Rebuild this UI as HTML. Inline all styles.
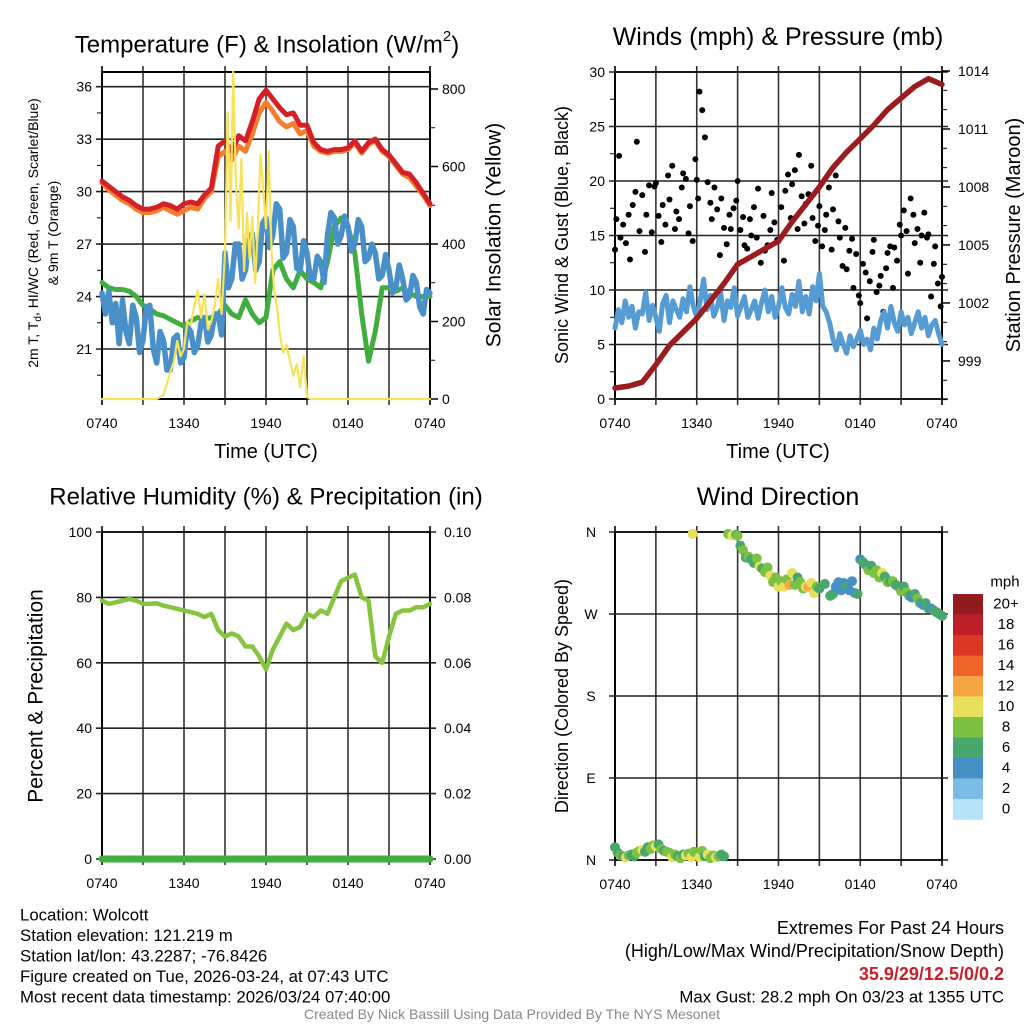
<!DOCTYPE html>
<html><head><meta charset="utf-8"><style>
html,body{margin:0;padding:0;background:#fff;}
svg{display:block;font-family:"Liberation Sans",sans-serif;}
</style></head><body>
<svg id="fig" width="1024" height="1024" viewBox="0 0 1024 1024"></svg>
<script>
// ---------- DATA ----------
const xTickLabels = ["0740","1340","1940","0140","0740"];
// Panel 1 (hours since 0740 UTC)
const tempT = [0,0.5,1,1.5,2,2.5,3,3.5,4,4.5,5,5.5,6,6.5,7,7.5,8,8.5,9,9.5,10,10.5,11,11.5,12,12.5,13,13.5,14,14.5,15,15.5,16,16.5,17,17.5,18,18.5,19,19.5,20,20.5,21,21.5,22,22.5,23,23.5,24];
const tempRed = [30.6,30.3,30.0,29.7,29.5,29.2,29.0,29.0,29.1,29.3,29.2,29.0,29.3,29.4,29.3,29.8,30.2,32.6,32.9,32.3,33.2,32.9,34.0,35.3,35.8,35.3,34.8,34.4,34.5,33.8,33.8,32.8,32.4,32.3,32.4,32.4,32.5,32.9,32.3,32.8,33.0,32.4,32.1,31.6,31.1,31.0,30.5,29.9,29.3];
const tempOrange = [30.5,30.1,29.8,29.5,29.3,29.0,28.8,28.8,28.9,29.1,28.9,28.7,28.9,29.1,29.0,29.6,30.0,32.0,32.3,31.8,32.6,32.3,33.3,34.5,35.1,34.6,34.0,33.7,33.9,33.3,33.5,32.6,32.3,32.2,32.3,32.3,32.4,32.8,32.2,32.7,32.9,32.3,32.0,31.5,31.0,30.8,30.3,29.8,29.2];
const dewGreen = [24.8,24.5,24.4,24.4,24.3,24.0,23.5,23.3,23.0,22.9,22.7,22.5,22.3,22.6,22.8,22.7,22.8,23.0,23.5,23.0,22.8,23.8,23.0,22.5,22.8,25.5,26.0,25.0,24.5,25.5,25.0,24.8,24.5,26.0,28.0,28.5,28.0,26.5,23.0,20.3,22.0,24.5,24.5,24.3,24.5,24.2,24.0,24.0,24.0];
const wcBlueT = [0,0.25,0.5,0.75,1,1.25,1.5,1.75,2,2.25,2.5,2.75,3,3.25,3.5,3.75,4,4.25,4.5,4.75,5,5.25,5.5,5.75,6,6.25,6.5,6.75,7,7.25,7.5,7.75,8,8.25,8.5,8.75,9,9.25,9.5,9.75,10,10.25,10.5,10.75,11,11.25,11.5,11.75,12,12.25,12.5,12.75,13,13.25,13.5,13.75,14,14.25,14.5,14.75,15,15.25,15.5,15.75,16,16.25,16.5,16.75,17,17.25,17.5,17.75,18,18.25,18.5,18.75,19,19.25,19.5,19.75,20,20.25,20.5,20.75,21,21.25,21.5,21.75,22,22.25,22.5,22.75,23,23.25,23.5,23.75,24];
const wcBlue = [24.2,23.0,24.3,22.5,23.6,21.3,23.8,22.0,21.3,23.5,22.8,20.8,21.5,23.4,23.5,21.0,20.2,22.0,21.5,19.8,19.8,21.6,21.8,20.2,20.5,22.3,22.0,20.8,21.2,22.5,22.8,21.4,21.8,23.0,23.0,21.8,26.5,24.5,25.0,27.0,27.0,25.0,25.5,27.2,27.6,25.5,26.0,28.2,28.5,26.8,27.5,29.3,29.0,26.2,26.5,28.4,28.0,25.6,25.5,27.2,26.5,25.0,25.0,26.3,26.0,24.8,27.5,28.8,28.5,27.0,27.5,28.6,28.0,26.6,27.0,28.4,28.0,26.0,26.2,27.0,26.5,25.0,25.2,26.4,25.5,24.2,24.5,25.8,25.0,23.8,24.0,25.2,24.8,23.4,23.0,24.4,24.2];
const solarT = [0,4,4.5,5,5.25,5.5,5.75,6,6.25,6.5,6.75,7,7.25,7.5,7.75,8,8.25,8.5,8.75,9,9.2,9.4,9.6,9.8,10,10.2,10.4,10.6,10.8,11,11.2,11.4,11.6,11.8,12,12.2,12.4,12.6,12.8,13,13.25,13.5,13.75,14,14.25,14.5,14.75,15,15.25,15.5,16,24];
const solarW = [0,0,10,70,95,150,110,130,200,190,240,280,210,270,180,200,240,310,220,380,740,460,845,560,440,620,330,480,360,470,300,440,630,540,440,640,380,280,240,170,120,140,100,60,90,30,110,5,0,0,0,0];
// Panel 2
const windT = wcBlueT;
const windSonic = [6.5,8.2,7.0,9.0,7.5,8.5,6.5,8.0,7.8,9.8,7.2,8.6,7.5,6.2,8.8,9.5,7.0,9.0,8.2,7.5,9.2,8.0,10.3,8.5,7.5,9.0,11.0,8.2,9.5,7.6,8.4,9.8,7.2,9.0,8.4,10.2,7.6,8.5,9.4,7.5,8.2,9.0,7.4,8.8,10.0,8.0,9.4,7.5,8.5,10.2,8.4,7.8,9.6,8.5,10.8,8.0,9.4,7.8,10.3,9.0,11.5,8.5,8.0,7.0,5.5,4.5,6.0,5.0,4.2,5.8,4.8,5.5,6.3,5.0,5.5,4.5,6.5,5.5,7.2,8.0,6.5,8.5,7.0,6.2,8.0,6.8,7.5,6.0,7.0,8.0,6.5,7.5,5.8,6.8,7.2,6.0,5.0];
const gustT = [0.0,0.1,0.3,0.4,0.6,0.8,1.0,1.1,1.3,1.5,1.6,1.8,2.0,2.2,2.3,2.5,2.7,2.9,3.0,3.2,3.4,3.5,3.7,3.9,4.0,4.2,4.4,4.5,4.7,4.9,5.0,5.2,5.4,5.5,5.7,5.9,6.0,6.1,6.2,6.4,6.6,6.8,7.0,7.1,7.3,7.5,7.7,7.8,8.0,8.2,8.4,8.5,8.7,8.9,9.0,9.2,9.4,9.5,9.7,9.9,10.0,10.2,10.4,10.5,10.7,10.9,11.0,11.2,11.4,11.5,11.7,11.9,12.0,12.2,12.4,12.5,12.7,12.9,13.0,13.2,13.4,13.5,13.7,13.9,14.0,14.2,14.4,14.5,14.7,14.9,15.0,15.2,15.4,15.5,15.7,15.9,16.0,16.2,16.4,16.5,16.7,16.9,17.0,17.2,17.4,17.5,17.7,17.9,18.0,18.2,18.4,18.5,18.7,18.9,19.0,19.2,19.4,19.5,19.7,19.9,20.0,20.2,20.4,20.5,20.7,20.9,21.0,21.2,21.4,21.5,21.7,21.9,22.0,22.2,22.4,22.5,22.7,22.9,23.0,23.2,23.4,23.5,23.7,23.9,24.0];
const gustW = [13.7,16.5,22.3,14.8,16.0,14.3,16.9,12.8,17.8,19.0,23.6,15.4,18.7,13.5,16.9,19.6,15.3,19.5,19.8,16.8,14.4,17.8,16.0,20.5,18.3,21.4,15.6,17.2,16.5,19.4,20.7,20.2,15.2,17.7,14.5,22.0,20.1,18.4,28.2,26.5,24.0,19.9,18.0,16.5,19.4,17.4,13.2,18.4,15.7,14.2,16.9,15.6,17.5,18.2,20.0,15.5,16.7,14.1,13.8,16.5,15.0,17.6,14.8,19.3,12.5,16.8,13.6,14.1,15.5,18.9,16.2,14.6,14.5,17.6,12.7,19.1,20.6,16.6,19.7,21.0,15.6,22.4,18.6,16.1,17.9,18.8,21.4,16.6,14.5,15.9,17.7,14.0,15.5,16.9,19.4,13.7,17.4,20.5,16.3,14.8,12.2,15.7,11.9,13.6,14.7,10.2,13.3,9.5,8.8,12.4,11.6,7.4,10.8,13.5,14.6,9.8,10.4,11.3,8.0,12.0,13.4,14.0,10.2,13.9,12.7,16.0,15.0,17.3,15.4,11.5,18.4,16.9,14.3,15.6,12.5,15.0,17.1,14.8,15.1,9.4,12.4,14.0,10.6,8.5,11.2,10.2,9.5];
const presT = [0,1,2,3,4,5,6,7,8,9,10,11,12,13,14,15,16,17,18,19,20,21,22,23,24];
const presMb = [997.6,997.7,997.9,998.8,999.8,1000.5,1001.2,1002.1,1003.0,1004.0,1004.4,1004.8,1005.2,1006.2,1007.1,1008.0,1009.0,1009.8,1010.5,1011.2,1012.0,1012.6,1013.2,1013.6,1013.3];
// Panel 3
const rhT = [0,0.5,1,1.5,2,2.5,3,3.5,4,4.5,5,5.5,6,6.5,7,7.5,8,8.5,9,9.5,10,10.5,11,11.5,12,12.5,13,13.5,14,14.5,15,15.5,16,16.5,17,17.5,18,18.5,19,19.5,20,20.5,21,21.5,22,22.5,23,23.5,24];
const rhPct = [79,78,78.5,79,79.5,79,78,78,78.2,77.5,77,76.5,76,75.5,75,74,75,70,68,69,68,65,65,62,58,64,68,72,70,71,75,74,76,75,80,85,86,87,80,79,62,60,68,75,76,76,77,77,78];
const precipIn = [0,0,0,0,0,0,0,0,0,0,0,0,0,0,0,0,0,0,0,0,0,0,0,0,0];
// Panel 4
const dirT = [0,0.2,0.4,0.6,0.8,1.0,1.2,1.4,1.6,1.8,2.0,2.2,2.4,2.6,2.8,3.0,3.2,3.4,3.6,3.8,4.0,4.2,4.4,4.6,4.8,5.0,5.2,5.4,5.6,5.8,6.0,6.2,6.4,6.6,6.8,7.0,7.2,7.4,7.6,7.8,8.0,5.7,8.3,8.6,8.9,9.0,9.2,9.4,9.6,9.8,10.0,10.2,10.4,10.6,10.8,11.0,11.2,11.4,11.6,11.8,12.0,12.2,12.4,12.6,12.8,13.0,13.2,13.4,13.6,13.8,14.0,14.2,14.4,14.6,14.8,15.0,15.4,15.8,16.0,16.2,16.4,16.6,16.8,17.0,17.2,17.4,17.6,17.8,18.0,18.2,18.4,18.6,18.8,19.0,19.2,19.4,19.6,19.8,20.0,20.2,20.4,20.6,20.8,21.0,21.2,21.4,21.6,21.8,22.0,22.2,22.4,22.6,22.8,23.0,23.2,23.4,23.6,23.8,24.0];
const dirDeg = [14,8,5,4,3,5,6,4,8,10,11,9,14,12,16,15,17,12,10,9,8,3,6,4,2,6,5,7,3,9,8,3,10,4,6,2,5,3,4,6,4,358,358,356,357,356,345,340,332,333,330,326,331,322,320,316,321,312,305,310,300,306,300,308,302,315,302,310,305,298,300,300,304,293,300,298,303,290,292,300,305,296,304,300,296,306,293,292,330,327,324,318,323,315,318,310,315,311,305,306,306,302,300,295,300,294,290,288,292,287,282,280,282,276,276,274,272,270,268];
const dirSpd = [6,7,8,6,10,8,7,6,9,8,10,7,6,8,9,10,7,8,6,9,8,10,9,7,8,6,10,8,11,9,8,10,9,7,11,8,9,10,8,7,6,10,8,10,7,9,6,8,7,8,7,6,8,10,7,8,9,10,8,9,10,8,11,9,12,10,9,7,9,8,10,12,11,10,9,6,7,7,6,5,4,5,4,6,4,5,4,7,5,6,7,8,7,8,9,8,10,7,8,6,8,7,6,8,7,8,6,4,7,8,6,5,7,6,4,6,7,6,7,6,6];
const cbLabels = ["20+","18","16","14","12","10","8","6","4","2","0"];
const cbColors = ["#931a1d","#be1e28","#dc3626","#ef6428","#f6a744","#e6e05a","#7cc144","#48a76c","#4690c6","#7cbbe3","#b7e3f8"];

// ---------- DRAWING ----------
const NS = "http://www.w3.org/2000/svg";
const svg = document.getElementById("fig");
function mk(tag, attrs, name, parent) {
  const el = document.createElementNS(NS, tag);
  for (const k in attrs) el.setAttribute(k, attrs[k]);
  
  
  (parent || svg).appendChild(el);
  return el;
}
function txt(x, y, s, size, name, opts) {
  opts = opts || {};
  const t = mk("text", {x: x, y: y, "font-size": size, "text-anchor": opts.anchor || "middle", fill: opts.fill || "#000", "dominant-baseline": "central"}, name);
  if (opts.weight) t.setAttribute("font-weight", opts.weight);
  if (opts.rot) t.setAttribute("transform", "rotate(-90 " + x + " " + y + ")");
  t.textContent = s;
  return t;
}
function frame(P, name) {
  const g = mk("g", {}, name);
  for (let i = 0; i <= 8; i++) {
    const x = P.x0 + (P.x1 - P.x0) * i / 8;
    mk("line", {x1: x, x2: x, y1: P.y0 - 6, y2: P.y1 + 6, stroke: i % 8 === 0 ? "#000" : "#333", "stroke-width": 1.6}, "v-gridline", g);
  }
  mk("rect", {x: P.x0, y: P.y0, width: P.x1 - P.x0, height: P.y1 - P.y0, fill: "none", stroke: "#000", "stroke-width": 2}, "plot-frame", g);
  xTickLabels.forEach((l, i) => {
    const x = P.x0 + (P.x1 - P.x0) * i / 4;
    txt(x, P.y1 + 24, l, 14, "x-tick-label");
  });
  return g;
}
function hline(P, y, g, ext) {
  mk("line", {x1: P.x0 - 6, x2: P.x1 + (ext ? 6 : 0), y1: y, y2: y, stroke: "#222", "stroke-width": 1.6}, "h-gridline", g);
}
function poly(pts, stroke, w, name, g) {
  return mk("polyline", {points: pts.map(p => p[0].toFixed(1) + "," + p[1].toFixed(1)).join(" "), fill: "none", stroke: stroke, "stroke-width": w, "stroke-linejoin": "round", "stroke-linecap": "round"}, name, g);
}

// Panel 1
const P1 = {x0: 102, x1: 430, y0: 72, y1: 399};
const x1f = t => P1.x0 + t / 24 * (P1.x1 - P1.x0);
const y1f = v => P1.y1 - (v - 18.14) / (36.84 - 18.14) * (P1.y1 - P1.y0);
const y1r = w => P1.y1 - w * 0.3875;
const g1 = frame(P1, "temperature-panel");
[21, 24, 27, 30, 33, 36].forEach(v => { hline(P1, y1f(v), g1, false); txt(P1.x0 - 10, y1f(v), String(v), 14, "y-tick-label", {anchor: "end"}); });
for (let v = 19.5; v < 36.5; v += 3) mk("line", {x1: P1.x0 - 5, x2: P1.x0, y1: y1f(v), y2: y1f(v), stroke: "#000"}, "y-minor-tick", g1);
[0, 200, 400, 600, 800].forEach(w => { mk("line", {x1: P1.x1, x2: P1.x1 + 8, y1: y1r(w), y2: y1r(w), stroke: "#000", "stroke-width": 1.5}, "y2-tick", g1); txt(P1.x1 + 12, y1r(w), String(w), 14, "y2-tick-label", {anchor: "start"}); });
for (let w = 100; w < 850; w += 100) if (w % 200) mk("line", {x1: P1.x1, x2: P1.x1 + 5, y1: y1r(w), y2: y1r(w), stroke: "#000"}, "y2-minor-tick", g1);
poly(tempT.map((t, i) => [x1f(t), y1f(tempOrange[i])]), "#f47e2e", 5, "series-9m-temp", g1);
poly(tempT.map((t, i) => [x1f(t), y1f(tempRed[i])]), "#d42027", 5, "series-2m-temp", g1);
poly(tempT.map((t, i) => [x1f(t), y1f(dewGreen[i])]), "#3fae3f", 5, "series-dewpoint", g1);
poly(wcBlueT.map((t, i) => [x1f(t), y1f(wcBlue[i])]), "#4a90c8", 5.5, "series-windchill", g1);
poly(solarT.map((t, i) => [x1f(t), y1r(solarW[i])]), "#f7e35a", 2.2, "series-solar", g1);
mk("text", {x: 267, y: 45, "font-size": 24, "text-anchor": "middle", "dominant-baseline": "central"}, "panel1-title").innerHTML = 'Temperature (F) &amp; Insolation (W/m<tspan dy="-9" font-size="15">2</tspan><tspan dy="9">)</tspan>';
txt(266, 452, "Time (UTC)", 20, "panel1-x-title");
const yl = mk("text", {x: 0, y: 0, "font-size": 14, "text-anchor": "middle", transform: "translate(38 233) rotate(-90)"}, "panel1-y-title");
yl.innerHTML = '2m T, T<tspan dy="3" font-size="10">d</tspan><tspan dy="-3">, HI/WC (Red, Green, Scarlet/Blue)</tspan>';
txt(53, 233, "& 9m T (Orange)", 14, "panel1-y-title-2", {rot: true});
txt(494, 235, "Solar Insolation (Yellow)", 21, "panel1-y2-title", {rot: true});

// Panel 2
const P2 = {x0: 615, x1: 942, y0: 72, y1: 399};
const x2f = t => P2.x0 + t / 24 * (P2.x1 - P2.x0);
const y2f = v => P2.y1 - v / 30 * (P2.y1 - P2.y0);
const y2r = p => 71 + (1014 - p) * 19.33;
const g2 = frame(P2, "winds-panel");
[0, 5, 10, 15, 20, 25, 30].forEach(v => { hline(P2, y2f(v), g2, true); txt(P2.x0 - 10, y2f(v), String(v), 14, "y-tick-label", {anchor: "end"}); });
for (let v = 2.5; v < 30; v += 5) mk("line", {x1: P2.x0 - 5, x2: P2.x0, y1: y2f(v), y2: y2f(v), stroke: "#000"}, "y-minor-tick", g2);
[999, 1002, 1005, 1008, 1011, 1014].forEach(p => { mk("line", {x1: P2.x1, x2: P2.x1 + 8, y1: y2r(p), y2: y2r(p), stroke: "#000", "stroke-width": 1.5}, "y2-tick", g2); txt(P2.x1 + 16, y2r(p), String(p), 14, "y2-tick-label", {anchor: "start"}); });
for (let p = 997; p < 1014; p++) if ((p - 999) % 3) mk("line", {x1: P2.x1, x2: P2.x1 + 5, y1: y2r(p), y2: y2r(p), stroke: "#000"}, "y2-minor-tick", g2);
gustT.forEach((t, i) => mk("circle", {cx: x2f(t), cy: y2f(gustW[i]), r: 3, fill: "#000"}, "gust-point", g2));
poly(windT.map((t, i) => [x2f(t), y2f(windSonic[i])]), "#579bd3", 5, "series-sonic-wind", g2);
poly(presT.map((t, i) => [x2f(t), y2r(presMb[i])]), "#9b1b1e", 5.5, "series-pressure", g2);
txt(778, 37, "Winds (mph) & Pressure (mb)", 25, "panel2-title");
txt(778, 452, "Time (UTC)", 20, "panel2-x-title");
txt(562, 235, "Sonic Wind & Gust (Blue, Black)", 18, "panel2-y-title", {rot: true});
txt(1014, 235, "Station Pressure (Maroon)", 20, "panel2-y2-title", {rot: true});

// Panel 3
const P3 = {x0: 102, x1: 430, y0: 532, y1: 859};
const x3f = t => P3.x0 + t / 24 * (P3.x1 - P3.x0);
const y3f = v => P3.y1 - v / 100 * (P3.y1 - P3.y0);
const y3r = v => P3.y1 - v / 0.1 * (P3.y1 - P3.y0);
const g3 = frame(P3, "humidity-panel");
[0, 20, 40, 60, 80, 100].forEach(v => { hline(P3, y3f(v), g3, true); txt(P3.x0 - 10, y3f(v), String(v), 14, "y-tick-label", {anchor: "end"}); });
[0, 0.02, 0.04, 0.06, 0.08, 0.1].forEach(v => txt(P3.x1 + 14, y3r(v), v.toFixed(2), 14, "y2-tick-label", {anchor: "start"}));
poly(precipIn.map((v, i) => [x3f(i), y3r(v)]), "#3fae3f", 7, "series-precip", g3);
poly(rhT.map((t, i) => [x3f(t), y3f(rhPct[i])]), "#86c440", 4.5, "series-rh", g3);
txt(266, 497, "Relative Humidity (%) & Precipitation (in)", 24, "panel3-title");
txt(36, 696, "Percent & Precipitation", 21, "panel3-y-title", {rot: true});

// Panel 4
const P4 = {x0: 615, x1: 942, y0: 532, y1: 860};
const x4f = t => P4.x0 + t / 24 * (P4.x1 - P4.x0);
const y4f = d => P4.y1 - d / 360 * (P4.y1 - P4.y0);
const g4 = frame(P4, "wind-direction-panel");
[["N", 0], ["E", 90], ["S", 180], ["W", 270], ["N", 360]].forEach(a => { hline(P4, y4f(a[1]), g4, true); txt(P4.x0 - 24, y4f(a[1]), a[0], 14, "y-tick-label"); });
const spdColor = s => cbColors[10 - Math.min(10, Math.floor(s / 2))];
dirT.forEach((t, i) => mk("circle", {cx: x4f(t), cy: y4f(dirDeg[i]), r: 5, fill: spdColor(dirSpd[i])}, "direction-point", g4));
txt(778, 497, "Wind Direction", 25, "panel4-title");
txt(562, 696, "Direction (Colored By Speed)", 18, "panel4-y-title", {rot: true});
const gc = mk("g", {}, "colorbar");
txt(1005, 582, "mph", 15, "colorbar-title");
cbColors.forEach((c, i) => {
  mk("rect", {x: 953, y: 594 + i * 20.5, width: 30, height: 20.8, fill: c}, "colorbar-swatch", gc);
  txt(1006, 604 + i * 20.5, cbLabels[i], 15, "colorbar-label");
});

// Footer text
const info = ["Location: Wolcott", "Station elevation: 121.219 m", "Station lat/lon: 43.2287; -76.8426", "Figure created on Tue, 2026-03-24, at 07:43 UTC", "Most recent data timestamp: 2026/03/24 07:40:00"];
info.forEach((s, i) => txt(20, 915 + i * 20.5, s, 16.8, "station-info-line", {anchor: "start"}));
txt(1004, 928, "Extremes For Past 24 Hours", 18, "extremes-title", {anchor: "end"});
txt(1004, 951, "(High/Low/Max Wind/Precipitation/Snow Depth)", 18, "extremes-subtitle", {anchor: "end"});
txt(1004, 974, "35.9/29/12.5/0/0.2", 18, "extremes-values", {anchor: "end", fill: "#c8202a", weight: "bold"});
txt(1004, 997, "Max Gust: 28.2 mph On 03/23 at 1355 UTC", 16.8, "max-gust", {anchor: "end"});
txt(512, 1014, "Created By Nick Bassill Using Data Provided By The NYS Mesonet", 14, "credit", {fill: "#888"});
</script>
</body></html>
